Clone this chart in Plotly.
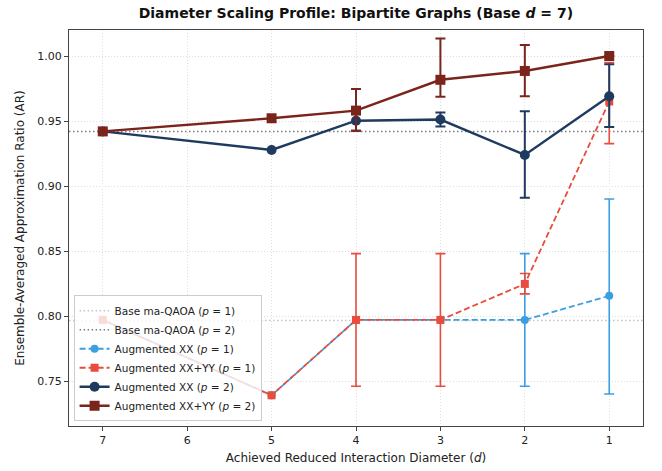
import plotly.graph_objects as go

# ---------------- data (ordered from d = 1 upward) ----------------
diameters = [1, 2, 3, 4, 5, 7]

base_p1 = 0.7965
base_p2 = 0.942

# error lists only cover the points that carry an error bar (leading entries)
xx_p1 = [0.8155, 0.797, 0.797, 0.797, 0.739, 0.797]
xx_p1_up = [0.0745, 0.051]
xx_p1_dn = [0.0755, 0.051]

xxyy_p1 = [0.965, 0.8247, 0.797, 0.797, 0.739, 0.797]
xxyy_p1_up = [0.030, 0.008, 0.051, 0.051]
xxyy_p1_dn = [0.0324, 0.0077, 0.051, 0.051]

xx_p2 = [0.969, 0.9239, 0.9511, 0.9502, 0.9277, 0.942]
xx_p2_up = [0.0247, 0.0336, 0.0054, 0.006]
xx_p2_dn = [0.0237, 0.0329, 0.0053, 0.0077]

xxyy_p2 = [1.000, 0.9885, 0.9817, 0.958, 0.9521, 0.942]
xxyy_p2_up = [0.0, 0.0199, 0.0318, 0.0166]
xxyy_p2_dn = [0.0, 0.0195, 0.0130, 0.0155]

x_range = [7.4, 0.6]
y_range = [0.7154, 1.02]
x_ticks = [7, 6, 5, 4, 3, 2, 1]
y_ticks = [0.75, 0.80, 0.85, 0.90, 0.95, 1.00]

C_LB = "#3d9ee0"
C_R = "#e74c3c"
C_NV = "#1f3a5f"
C_DR = "#7b241c"

fig = go.Figure()

fig.add_trace(go.Scatter(
    x=x_range, y=[base_p1, base_p1], mode="lines",
    line=dict(color="#c4c4c4", width=1.5, dash="1.5px,2.5px"),
    name="Base ma-QAOA (<i>p</i> = 1)"))
fig.add_trace(go.Scatter(
    x=x_range, y=[base_p2, base_p2], mode="lines",
    line=dict(color="#7a7a7a", width=1.5, dash="1.5px,2.5px"),
    name="Base ma-QAOA (<i>p</i> = 2)"))


def err(up, dn, color, th):
    return dict(type="data", symmetric=False, array=up, arrayminus=dn,
                color=color, thickness=th, width=5)


fig.add_trace(go.Scatter(
    x=diameters, y=xx_p1, mode="lines+markers",
    line=dict(color=C_LB, width=1.8, dash="6px,3px"),
    marker=dict(symbol="circle", size=8, color=C_LB),
    error_y=err(xx_p1_up, xx_p1_dn, C_LB, 1.6),
    name="Augmented XX (<i>p</i> = 1)"))
fig.add_trace(go.Scatter(
    x=diameters, y=xxyy_p1, mode="lines+markers",
    line=dict(color=C_R, width=1.8, dash="6px,3px"),
    marker=dict(symbol="square", size=8, color=C_R),
    error_y=err(xxyy_p1_up, xxyy_p1_dn, C_R, 1.6),
    name="Augmented XX+YY (<i>p</i> = 1)"))
fig.add_trace(go.Scatter(
    x=diameters, y=xx_p2, mode="lines+markers",
    line=dict(color=C_NV, width=2.4),
    marker=dict(symbol="circle", size=10, color=C_NV),
    error_y=err(xx_p2_up, xx_p2_dn, C_NV, 2.0),
    name="Augmented XX (<i>p</i> = 2)"))
fig.add_trace(go.Scatter(
    x=diameters, y=xxyy_p2, mode="lines+markers",
    line=dict(color=C_DR, width=2.4),
    marker=dict(symbol="square", size=10, color=C_DR),
    error_y=err(xxyy_p2_up, xxyy_p2_dn, C_DR, 2.0),
    name="Augmented XX+YY (<i>p</i> = 2)"))

axis_common = dict(
    showline=True, linecolor="#444444", linewidth=1.2, mirror=True,
    ticks="outside", ticklen=4, tickcolor="#444444", tickwidth=1,
    showgrid=True, gridcolor="#dedede", gridwidth=0.8, griddash="1px,2px",
    zeroline=False, tickfont=dict(size=11, color="#222222"), automargin=False,
)

fig.update_layout(
    width=662, height=471,
    margin=dict(l=68.5, r=18.7, t=30, b=45),
    paper_bgcolor="white", plot_bgcolor="white",
    font=dict(family="DejaVu Sans", size=11, color="#222222"),
    title=dict(text="<b>Diameter Scaling Profile: Bipartite Graphs (Base <i>d</i> = 7)</b>",
               x=(68.5 + 643.3) / 2 / 662, xanchor="center", y=0.972, yanchor="middle",
               font=dict(size=14, color="#111111")),
    xaxis=dict(range=x_range, tickvals=x_ticks,
               title=dict(text="Achieved Reduced Interaction Diameter (<i>d</i>)",
                          font=dict(size=12), standoff=7),
               **axis_common),
    yaxis=dict(range=y_range, tickvals=y_ticks, tickformat=".2f",
               title=dict(text="Ensemble-Averaged Approximation Ratio (AR)",
                          font=dict(size=12), standoff=10),
               **axis_common),
    legend=dict(x=0.008, y=0.012, xanchor="left", yanchor="bottom",
                bgcolor="rgba(255,255,255,0.8)", bordercolor="#cccccc", borderwidth=1,
                font=dict(size=10.5), tracegroupgap=0, itemwidth=30),
    showlegend=True,
)

fig.write_html("out.html", config={"displayModeBar": False},
               post_script="document.body.style.margin='0';")
